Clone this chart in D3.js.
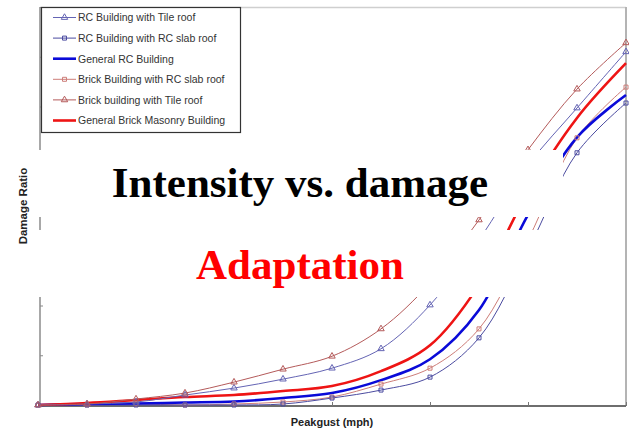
<!DOCTYPE html>
<html>
<head>
<meta charset="utf-8">
<script src="https://cdn.jsdelivr.net/npm/d3@7"></script>
<style>
  html, body { margin: 0; padding: 0; background: #fff; }
  svg { display: block; }
</style>
</head>
<body>
<svg id="chart" width="629" height="432"></svg>
<script>
// ---- data ----
const peakgust = [0, 10, 20, 30, 40, 50, 60, 70, 80, 90, 100, 110, 120];
const seriesNames = [
  "RC Building with Tile roof",
  "RC Building with RC slab roof",
  "General RC Building",
  "Brick Building with RC slab roof",
  "Brick building with Tile roof",
  "General Brick Masonry Building"
];
const rcTile      = [0, .002, .006, .020, .034, .052, .074, .113, .201, .332, .482, .597, .710];
const rcSlab      = [0, 0, 0, 0, 0, .002, .014, .030, .056, .135, .312, .507, .607];
const generalRC   = [0, .002, .003, .005, .007, .014, .024, .050, .092, .191, .382, .538, .623];
const brickSlab   = [0, 0, .002, 0, .002, .006, .016, .042, .074, .153, .332, .537, .639];
const brickTile   = [0, .002, .012, .024, .046, .072, .098, .153, .245, .372, .513, .635, .728];
const generalBrick= [0, .004, .010, .016, .020, .028, .038, .068, .120, .241, .428, .577, .687];
const yTicks = [0, .1, .2, .3, .4, .5, .6, .7, .8];
const xTicks = [0, 20, 40, 60, 80, 100, 120];
const title = "Intensity vs. damage";
const subtitle = "Adaptation";
const xLabel = "Peakgust (mph)";
const yLabel = "Damage Ratio";

const seriesValues = [rcTile, rcSlab, generalRC, brickSlab, brickTile, generalBrick];
const styles = [
  {color: "#6464b4", width: 1, marker: "triangle"},
  {color: "#4b4ba0", width: 1, marker: "square"},
  {color: "#0a0ad8", width: 2.6, marker: null},
  {color: "#cd7d78", width: 1, marker: "square"},
  {color: "#b45a5a", width: 1, marker: "triangle"},
  {color: "#ee1414", width: 2.6, marker: null}
];
const series = seriesNames.map((n, i) => ({name: n, values: seriesValues[i], style: styles[i]}));

// ---- chart ----
const svg = d3.select("#chart");
const x = d3.scaleLinear().domain([0, 120]).range([38, 626]);
const y = d3.scaleLinear().domain([0, 0.8]).range([405, 7]);

// frame (top/right light)
svg.append("line").attr("x1", 40).attr("x2", 626).attr("y1", 7.5).attr("y2", 7.5)
  .attr("stroke", "#cfcfcf").attr("stroke-width", 1.5);
svg.append("line").attr("x1", 626).attr("x2", 626).attr("y1", 7).attr("y2", 406)
  .attr("stroke", "#b4b4b4").attr("stroke-width", 2);

// axes
const xAxis = d3.axisBottom(x).tickValues(xTicks).tickSize(-4).tickFormat("");
const gx = svg.append("g").attr("transform", "translate(0,406)").call(xAxis);
gx.select(".domain").attr("stroke", "#6e6e6e").attr("stroke-width", 2).attr("d", "M38,0H626");
gx.selectAll(".tick line").attr("stroke", "#777");

const yAxis = d3.axisLeft(y).tickValues(yTicks).tickSize(-3).tickFormat("");
const gy = svg.append("g").attr("transform", "translate(40,0)").call(yAxis);
gy.select(".domain").attr("stroke", "#a8a8a8").attr("stroke-width", 2).attr("d", "M0,7V406");
gy.selectAll(".tick line").attr("stroke", "#888");

// lines
const line = d3.line().x((d, i) => x(peakgust[i])).y(d => y(d)).curve(d3.curveCatmullRom.alpha(0.5));
const order = [3, 1, 2, 5, 0, 4];
order.forEach(k => {
  const s = series[k];
  svg.append("path").datum(s.values).attr("d", line).attr("fill", "none")
    .attr("stroke", s.style.color).attr("stroke-width", s.style.width)
    .attr("stroke-linejoin", "round");
});

const tri = d3.symbol().type(d3.symbolTriangle).size(18);
const sq = d3.symbol().type(d3.symbolSquare).size(16);
order.forEach(k => {
  const s = series[k];
  if (!s.style.marker) return;
  svg.append("g").selectAll("path").data(s.values).join("path")
    .attr("transform", (d, i) => `translate(${x(peakgust[i])},${y(d)})`)
    .attr("d", s.style.marker === "triangle" ? tri : sq)
    .attr("fill", "none").attr("stroke", s.style.color).attr("stroke-width", 1);
});

// legend
const lg = svg.append("g");
lg.append("rect").attr("x", 41.5).attr("y", 7.5).attr("width", 199).attr("height", 125)
  .attr("fill", "#fff").attr("stroke", "#333").attr("stroke-width", 1.2);
series.forEach((s, i) => {
  const yy = 17.5 + i * 20.6;
  lg.append("line").attr("x1", 53).attr("x2", 76).attr("y1", yy).attr("y2", yy)
    .attr("stroke", s.style.color).attr("stroke-width", s.style.width);
  if (s.style.marker) {
    lg.append("path").attr("transform", `translate(64.5,${yy})`)
      .attr("d", s.style.marker === "triangle" ? tri : sq)
      .attr("fill", "none").attr("stroke", s.style.color);
  }
  lg.append("text").attr("x", 78).attr("y", yy + 3.8).text(s.name)
    .attr("font-family", "Liberation Sans, Arial, sans-serif").attr("font-size", 10.5)
    .attr("fill", "#333");
});

// axis labels
svg.append("text").attr("x", 332).attr("y", 426).attr("text-anchor", "middle")
  .attr("font-family", "Liberation Sans, Arial, sans-serif").attr("font-weight", "bold")
  .attr("font-size", 11).attr("fill", "#222").text(xLabel);
svg.append("text").attr("transform", "translate(26.5,206) rotate(-90)").attr("text-anchor", "middle")
  .attr("font-family", "Liberation Sans, Arial, sans-serif").attr("font-weight", "bold")
  .attr("font-size", 11.5).attr("fill", "#222").text(yLabel);

// overlay text boxes
svg.append("rect").attr("x", 36).attr("y", 150).attr("width", 527).attr("height", 67).attr("fill", "#fff");
svg.append("rect").attr("x", 36).attr("y", 230).attr("width", 527).attr("height", 67).attr("fill", "#fff");
svg.append("text").attr("x", 300).attr("y", 197).attr("text-anchor", "middle")
  .attr("font-family", "Liberation Serif, Times New Roman, serif").attr("font-weight", "bold")
  .attr("font-size", 43).attr("fill", "#000").text(title);
svg.append("text").attr("x", 300).attr("y", 279).attr("text-anchor", "middle")
  .attr("font-family", "Liberation Serif, Times New Roman, serif").attr("font-weight", "bold")
  .attr("font-size", 43).attr("fill", "#ff0000").text(subtitle);
</script>
</body>
</html>
